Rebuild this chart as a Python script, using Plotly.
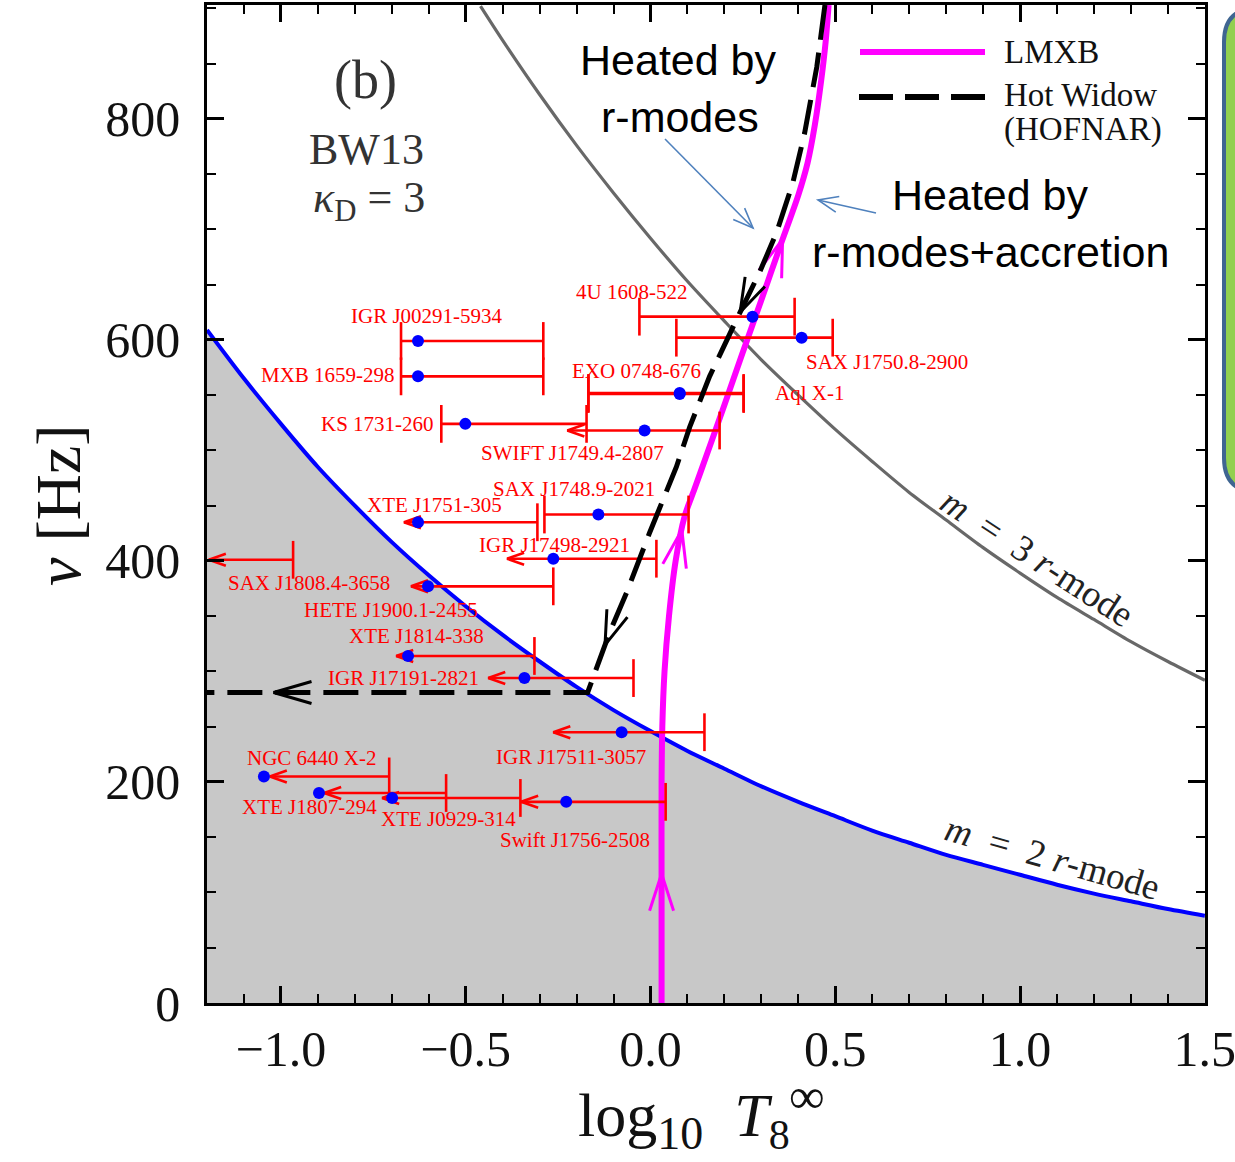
import numpy as np
import plotly.graph_objects as go

# ------------------------------------------------------------------
# Data
# ------------------------------------------------------------------
# m = 2 r-mode instability boundary
m2_logT = [-1.2, -1.1, -1.0, -0.9, -0.8, -0.7, -0.6, -0.5, -0.4, -0.3, -0.2, -0.1, 0.0,
           0.1, 0.2, 0.3, 0.4, 0.5, 0.6, 0.7, 0.8, 0.9, 1.0, 1.1, 1.2, 1.3, 1.4, 1.5]
m2_nu = [609, 565, 524, 485, 450, 417, 387, 359, 333, 309, 286, 265, 246,
         228, 212, 196, 182, 169, 156, 145, 134, 125, 116, 107, 99, 92, 85, 79]

# m = 3 r-mode instability boundary
m3_logT = [-0.46, -0.4, -0.3, -0.2, -0.1, 0.0, 0.1, 0.2, 0.3, 0.4, 0.5, 0.6, 0.7, 0.8,
           0.9, 1.0, 1.1, 1.2, 1.3, 1.4, 1.5]
m3_nu = [902, 871, 822, 776, 733, 692, 653, 617, 582, 550, 519, 490, 462, 437,
         412, 389, 367, 347, 327, 309, 292]

# LMXB evolution track
lmxb_logT = [0.030, 0.030, 0.030, 0.032, 0.038, 0.050, 0.068, 0.092, 0.119, 0.150,
             0.200, 0.250, 0.300, 0.350, 0.400, 0.425, 0.445, 0.462, 0.474, 0.482]
lmxb_nu = [0, 100, 200, 250, 300, 350, 400, 440, 465, 494, 541, 589, 636, 684, 731,
           760, 795, 835, 870, 903]

# Hot widow (HOFNAR) track
hw_logT = [0.472, 0.450, 0.417, 0.385, 0.341, 0.295, 0.241, 0.160, 0.106, 0.070,
           -0.003, -0.065, -0.111, -0.170, -1.2]
hw_nu = [903, 847, 787, 742, 697, 661, 624, 567, 521, 485, 425, 371, 335, 281, 281]

# direction arrows placed on the tracks (frequency where the arrow sits)
lmxb_arrow_nu = [117, 428, 691]
hw_arrow_nu = [625, 324]
hw_horiz_arrow_logT = [-1.02]

# observed sources
src_names = ["IGR J00291-5934", "MXB 1659-298", "KS 1731-260", "SWIFT J1749.4-2807",
             "4U 1608-522", "SAX J1750.8-2900", "EXO 0748-676", "Aql X-1",
             "SAX J1748.9-2021", "XTE J1751-305", "IGR J17498-2921", "SAX J1808.4-3658",
             "HETE J1900.1-2455", "XTE J1814-338", "IGR J17191-2821", "IGR J17511-3057",
             "NGC 6440 X-2", "XTE J1807-294", "XTE J0929-314", "Swift J1756-2508"]
src_nu = [599, 567, 524, 518, 621, 602, 552, 551, 442, 435, 402, 401, 377, 314, 294,
          245, 205, 190, 185.5, 182]
src_logT = [-0.629, -0.629, -0.501, -0.016, 0.276, 0.409, 0.079, 0.079, -0.141, -0.629,
            -0.263, -1.45, -0.602, -0.656, -0.341, -0.078, -1.046, -0.897, -0.699, -0.228]
src_logT_lo = [-0.675, -0.675, -0.566, -0.225, -0.030, 0.070, -0.168, -0.168, -0.287,
               -0.667, -0.388, -1.195, -0.648, -0.688, -0.439, -0.263, -1.030, -0.883,
               -0.726, -0.350]
src_logT_hi = [-0.290, -0.290, -0.173, 0.187, 0.390, 0.493, 0.252, 0.252, 0.103, -0.306,
               0.016, -0.967, -0.263, -0.314, -0.046, 0.146, -0.707, -0.553, -0.352, 0.041]
src_upper = [False, False, False, True, False, False, False, False, False, True, True,
             True, True, True, True, True, True, True, True, True]

# label placement (text anchors, data units)
label_logT = [-0.604, -0.873, -0.740, -0.211, -0.051, 0.640, -0.038, 0.431, -0.206,
              -0.585, -0.260, -0.924, -0.702, -0.634, -0.667, -0.214, -0.916, -0.924,
              -0.547, -0.203]
label_nu = [621.7, 568, 524, 498, 643, 580, 572, 552, 465, 451, 414, 380, 356, 332, 294,
            222.6, 221.7, 177, 166.5, 147.5]

# ------------------------------------------------------------------
# Layout geometry
# ------------------------------------------------------------------
W, H = 1235, 1162
LM, RM, TM, BM = 207, 30, 5, 159
X0, X1 = -1.2, 1.5004
Y0, Y1 = 0, 903
PW = W - LM - RM
PH = H - TM - BM
SX = PW / (X1 - X0)
SY = PH / (Y1 - Y0)

SERIF = "Liberation Serif"
SANS = "Liberation Sans"


def paper(px, py):
    return (px - LM) / PW, (H - BM - py) / PH


def chevron(tx, ty, dx, dy, L, Wd):
    """Open arrowhead with tip at (tx, ty) data, direction (dx, dy) in px (y up)."""
    n = np.hypot(dx, dy)
    dx, dy = dx / n, dy / n
    nx, ny = -dy, dx
    bx, by = -L * dx, -L * dy
    w1 = (tx + (bx + Wd * nx) / SX, ty + (by + Wd * ny) / SY)
    w2 = (tx + (bx - Wd * nx) / SX, ty + (by - Wd * ny) / SY)
    return [w1[0], tx, w2[0], None], [w1[1], ty, w2[1], None]


def paper_chevron(tpx, tpy, fpx, fpy, L, Wd):
    """Chevron in pixel space, tip at (tpx,tpy), coming from (fpx,fpy); returns paper path."""
    dx, dy = tpx - fpx, tpy - fpy
    n = np.hypot(dx, dy)
    dx, dy = dx / n, dy / n
    nx, ny = -dy, dx
    a = paper(tpx - L * dx + Wd * nx, tpy - L * dy + Wd * ny)
    b = paper(tpx, tpy)
    c = paper(tpx - L * dx - Wd * nx, tpy - L * dy - Wd * ny)
    return f"M {a[0]},{a[1]} L {b[0]},{b[1]} L {c[0]},{c[1]}"


fig = go.Figure()

# m = 2 boundary with grey unstable region below
fig.add_trace(go.Scatter(x=m2_logT, y=m2_nu, mode="lines",
                         line=dict(color="#0000ff", width=4, shape="spline", smoothing=0.8),
                         fill="tozeroy", fillcolor="#c8c8c8",
                         showlegend=False, hoverinfo="skip"))
# m = 3 boundary
fig.add_trace(go.Scatter(x=m3_logT, y=m3_nu, mode="lines",
                         line=dict(color="#686868", width=3.2, shape="spline", smoothing=0.8),
                         showlegend=False, hoverinfo="skip"))

# LMXB track
fig.add_trace(go.Scatter(x=lmxb_logT, y=lmxb_nu, mode="lines", name="LMXB",
                         line=dict(color="#ff00ff", width=6, shape="spline", smoothing=0.8),
                         showlegend=False, hoverinfo="skip"))
# LMXB arrows
ax, ay = [], []
for nu in lmxb_arrow_nu:
    x = float(np.interp(nu, lmxb_nu, lmxb_logT))
    xa = float(np.interp(nu - 15, lmxb_nu, lmxb_logT))
    cx, cy = chevron(x, nu, (x - xa) * SX, 15 * SY, 37, 12)
    ax += cx
    ay += cy
fig.add_trace(go.Scatter(x=ax, y=ay, mode="lines", line=dict(color="#ff00ff", width=3),
                         showlegend=False, hoverinfo="skip"))

# error bars of sources
bx, by = [], []
for lo, hi, nu in zip(src_logT_lo, src_logT_hi, src_nu):
    bx += [lo, hi, None]
    by += [nu, nu, None]
fig.add_trace(go.Scatter(x=bx, y=by, mode="lines", line=dict(color="#ff0000", width=2.6),
                         showlegend=False, hoverinfo="skip"))
cap_x = list(src_logT_hi) + [lo for lo, up in zip(src_logT_lo, src_upper) if not up]
cap_y = list(src_nu) + [nu for nu, up in zip(src_nu, src_upper) if not up]
fig.add_trace(go.Scatter(x=cap_x, y=cap_y, mode="markers",
                         marker=dict(symbol="line-ns", size=27, color="#ff0000",
                                     line=dict(color="#ff0000", width=2.6)),
                         showlegend=False, hoverinfo="skip"))
rx, ry = [], []
for lo, nu, up in zip(src_logT_lo, src_nu, src_upper):
    if up:
        cx, cy = chevron(lo, nu, -1, 0, 17, 6)
        rx += cx
        ry += cy
fig.add_trace(go.Scatter(x=rx, y=ry, mode="lines", line=dict(color="#ff0000", width=2.6),
                         showlegend=False, hoverinfo="skip"))

# Hot widow track
fig.add_trace(go.Scatter(x=hw_logT, y=hw_nu, mode="lines", name="Hot Widow (HOFNAR)",
                         line=dict(color="#000000", width=5, dash="35px,13px"),
                         showlegend=False, hoverinfo="skip"))
kx, ky = [], []
diag_nu = hw_nu[:-1][::-1]
diag_T = hw_logT[:-1][::-1]
for nu in hw_arrow_nu:
    x = float(np.interp(nu, diag_nu, diag_T))
    xb = float(np.interp(nu + 15, diag_nu, diag_T))
    cx, cy = chevron(x, nu, (x - xb) * SX, -15 * SY, 34, 11)
    kx += cx
    ky += cy
for xt in hw_horiz_arrow_logT:
    cx, cy = chevron(xt, hw_nu[-1], -1, 0, 38, 11)
    kx += cx
    ky += cy
fig.add_trace(go.Scatter(x=kx, y=ky, mode="lines", line=dict(color="#000000", width=3),
                         showlegend=False, hoverinfo="skip"))

# source points
fig.add_trace(go.Scatter(x=src_logT, y=src_nu, mode="markers",
                         marker=dict(color="#0000ff", size=12), text=src_names,
                         showlegend=False, hoverinfo="text"))

annotations = []
for name, lx, ly in zip(src_names, label_logT, label_nu):
    annotations.append(dict(x=lx, y=ly, xref="x", yref="y", text=name, showarrow=False,
                            font=dict(family=SERIF, size=21, color="#ff0000"),
                            xanchor="center", yanchor="middle"))


def ptext(px, py, text, size, family=SERIF, color="#000000", xanchor="center", angle=0):
    x, y = paper(px, py)
    annotations.append(dict(x=x, y=y, xref="paper", yref="paper", text=text,
                            showarrow=False, font=dict(family=family, size=size, color=color),
                            xanchor=xanchor, yanchor="middle", textangle=angle,
                            borderpad=0))


ptext(365, 80, "(b)", 54, color="#333333")
ptext(366, 150, "BW13", 44, color="#333333")
ptext(369, 200, "<i>κ</i><sub>D</sub> = 3", 44, color="#333333")

ptext(1037, 557, "<i>m</i> &nbsp;= &nbsp;3 <i>r</i>-mode", 37, color="#222222", angle=33)
ptext(1052, 857, "<i>m</i> &nbsp;= &nbsp;2 <i>r</i>-mode", 37, color="#222222", angle=16)

ptext(678, 60, "Heated by", 43, family=SANS)
ptext(680, 117, "r-modes", 43, family=SANS)
ptext(990, 195, "Heated by", 43, family=SANS)
ptext(990, 252, "r-modes+accretion", 43, family=SANS)

# legend texts
ptext(1003, 52, "LMXB", 33, xanchor="left", color="#111111")
ptext(1003, 95, "Hot Widow", 33, xanchor="left", color="#111111")
ptext(1003, 130, "(HOFNAR)", 33, xanchor="left", color="#111111")

# axis titles
ptext(577, 1120,
      "log<sub><span style='font-size:46px'>10</span></sub> &nbsp;<i>T</i>"
      "<sub><span style='font-size:42px'>8</span></sub>",
      62, xanchor="left", color="#111111")
ptext(807, 1096, "∞", 50, color="#111111")
ptext(58, 505, "<i>ν</i> [Hz]", 64, color="#111111", angle=-90)

shapes = []
# legend lines
a, b = paper(860, 52), paper(985, 52)
shapes.append(dict(type="line", xref="paper", yref="paper", x0=a[0], y0=a[1], x1=b[0], y1=b[1],
                   line=dict(color="#ff00ff", width=6)))
a, b = paper(859, 97), paper(985, 97)
shapes.append(dict(type="line", xref="paper", yref="paper", x0=a[0], y0=a[1], x1=b[0], y1=b[1],
                   line=dict(color="#000000", width=6, dash="34px,12px")))

# pointer arrows for the annotations
for (fx, fy, tx, ty) in [(665, 139, 753, 228), (876, 213, 818, 200)]:
    a, b = paper(fx, fy), paper(tx, ty)
    shapes.append(dict(type="line", xref="paper", yref="paper", x0=a[0], y0=a[1],
                       x1=b[0], y1=b[1], line=dict(color="#4f81bd", width=1.6)))
    shapes.append(dict(type="path", xref="paper", yref="paper",
                       path=paper_chevron(tx, ty, fx, fy, 20, 8),
                       line=dict(color="#4f81bd", width=1.6)))

# cropped green rounded box at the right edge
pts = {k: paper(*v) for k, v in {
    "a": (1300, 8), "b": (1258, 8), "c": (1224, 8), "d": (1224, 42),
    "e": (1224, 458), "f": (1224, 492), "g": (1258, 492), "h": (1300, 492)}.items()}
path = (f"M {pts['a'][0]},{pts['a'][1]} L {pts['b'][0]},{pts['b'][1]} "
        f"Q {pts['c'][0]},{pts['c'][1]} {pts['d'][0]},{pts['d'][1]} "
        f"L {pts['e'][0]},{pts['e'][1]} "
        f"Q {pts['f'][0]},{pts['f'][1]} {pts['g'][0]},{pts['g'][1]} "
        f"L {pts['h'][0]},{pts['h'][1]} Z")
shapes.append(dict(type="path", xref="paper", yref="paper", path=path,
                   fillcolor="#92d050", line=dict(color="#3f6591", width=4)))

axis_common = dict(showgrid=False, zeroline=False, showline=True, linecolor="#000000",
                   linewidth=2.5, mirror="ticks", ticks="inside", tickcolor="#000000",
                   tickwidth=2.5, ticklen=17, automargin=False,
                   tickfont=dict(family=SERIF, size=50, color="#111111"))

fig.update_layout(
    width=W, height=H,
    margin=dict(l=LM, r=RM, t=TM, b=BM, autoexpand=False),
    paper_bgcolor="#ffffff", plot_bgcolor="#ffffff",
    showlegend=False,
    annotations=annotations,
    shapes=shapes,
    xaxis=dict(range=[X0, X1], tick0=0, dtick=0.5, tickformat=".1f",
               minor=dict(dtick=0.1, tick0=0, ticks="inside", ticklen=9, tickwidth=2,
                          tickcolor="#000000"),
               ticklabelstandoff=0, ticklabeloverflow="allow", **axis_common),
    yaxis=dict(range=[Y0, Y1], tick0=0, dtick=200,
               minor=dict(dtick=50, tick0=0, ticks="inside", ticklen=9, tickwidth=2,
                          tickcolor="#000000"),
               ticklabelstandoff=14, **axis_common),
)

fig.write_html("out.html")
